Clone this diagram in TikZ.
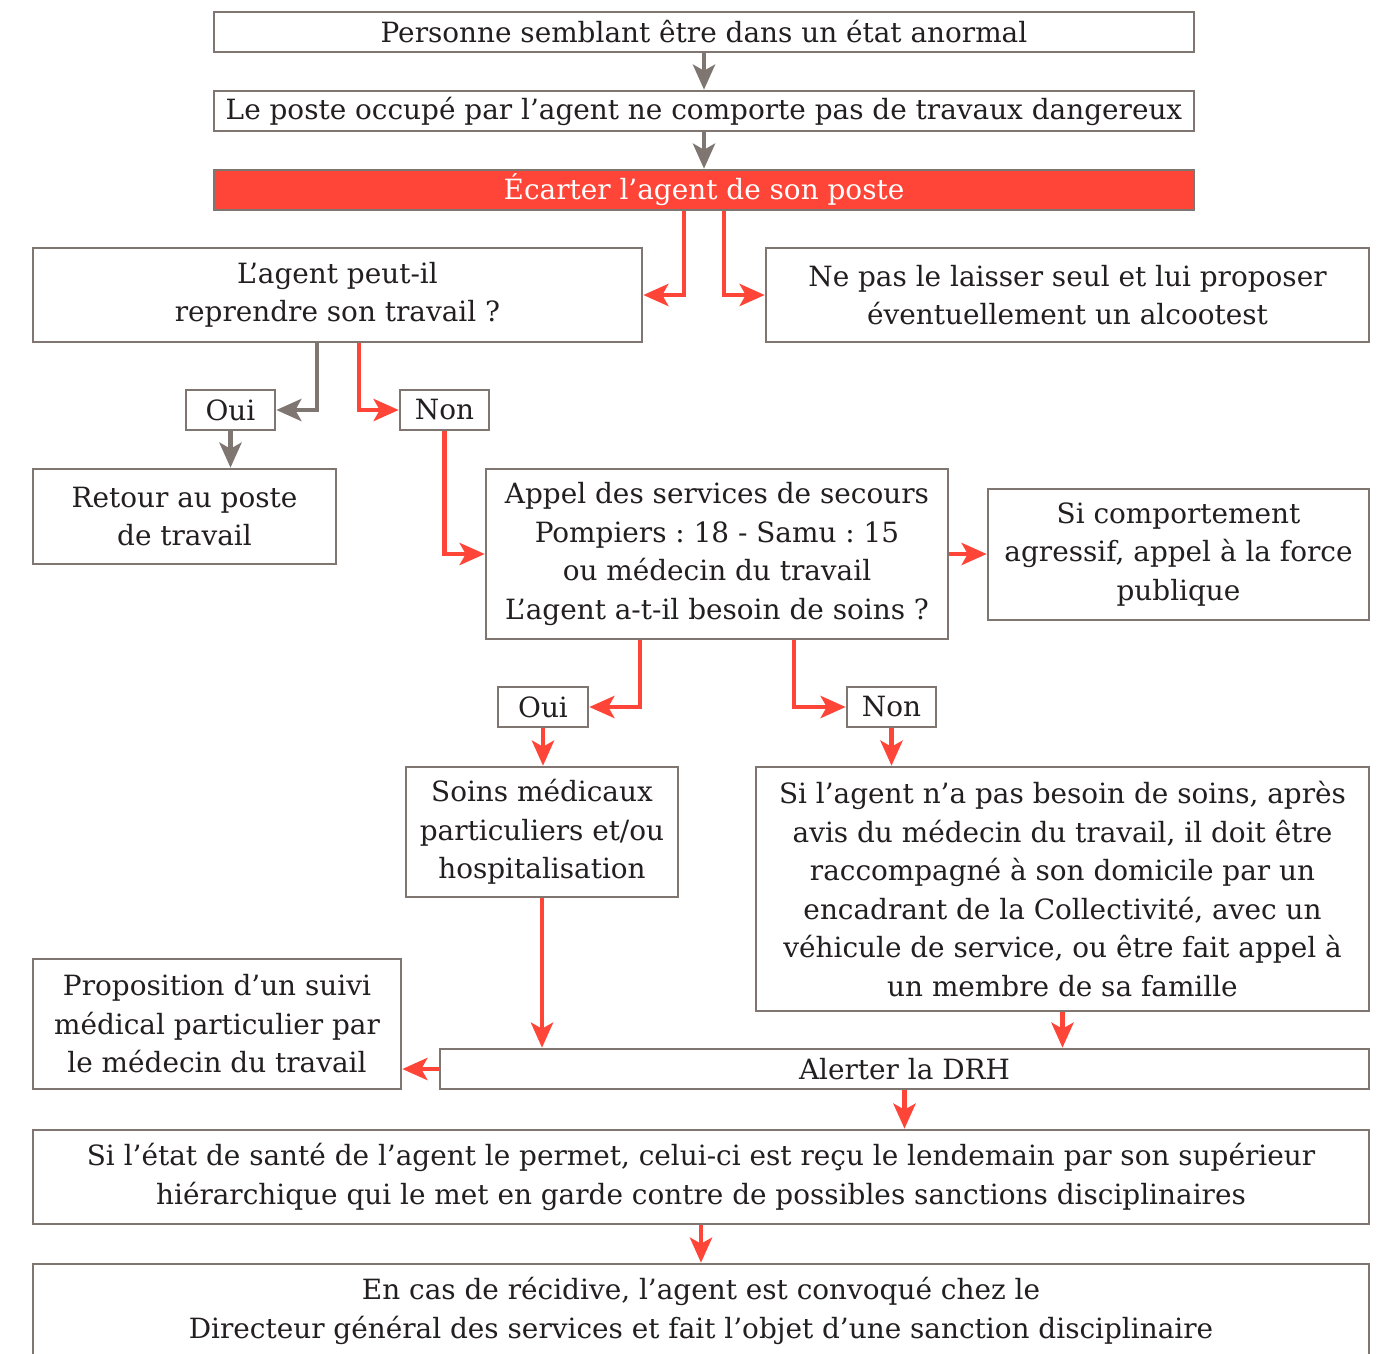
\documentclass[tikz,border=0pt]{standalone}
\usepackage{fontspec}
\setmainfont{DejaVu Serif}
\usetikzlibrary{arrows.meta}
\definecolor{gr}{HTML}{7F7672}
\definecolor{rd}{HTML}{FF4438}
\definecolor{tx}{HTML}{231F20}
\begin{document}
\begin{tikzpicture}[x=1pt,y=-1pt,
  box/.style={draw=gr, line width=2.6pt, fill=white, rectangle, inner sep=0pt, align=center, text=tx,
    font=\fontsize{27.9}{38.5}\selectfont},
  redbox/.style={box, fill=rd, text=white},
  garr/.style={draw=gr, line width=4.8pt, -{Stealth[length=25pt,width=22pt,inset=6pt]}},
  rarr/.style={draw=rd, line width=4.8pt, -{Stealth[length=25pt,width=22pt,inset=6pt]}}]
\useasboundingbox (0,0) rectangle (1382,1353);
\fill[white] (0,0) rectangle (1382,1353);
% nodes
\node[box, minimum width=980, minimum height=40] (p1) at (704,32) {Personne semblant être dans un état anormal};
\node[box, minimum width=980, minimum height=40] (p2) at (704,111) {Le poste occupé par l’agent ne comporte pas de travaux dangereux};
\node[redbox, minimum width=980, minimum height=40] (p3) at (704,190) {Écarter l’agent de son poste};
\node[box, minimum width=609, minimum height=94] (q1) at (337.5,295) {L’agent peut-il\\reprendre son travail ?};
\node[box, minimum width=603, minimum height=94] (np) at (1067.5,295) {Ne pas le laisser seul et lui proposer\\éventuellement un alcootest};
\node[box, minimum width=89, minimum height=40] (oui1) at (230.5,410) {Oui};
\node[box, minimum width=89, minimum height=40] (non1) at (444.5,410) {Non};
\node[box, minimum width=303, minimum height=95] (ret) at (184.5,516.5) {Retour au poste\\de travail};
\node[box, minimum width=462, minimum height=170] (app) at (717,554) {Appel des services de secours\\Pompiers~:~18 - Samu~:~15\\ou médecin du travail\\L’agent a-t-il besoin de soins~?};
\node[box, minimum width=381, minimum height=131] (agr) at (1178.5,554.5) {Si comportement\\agressif, appel à la force\\publique};
\node[box, minimum width=90, minimum height=40] (oui2) at (543,707) {Oui};
\node[box, minimum width=89, minimum height=40] (non2) at (891.5,707) {Non};
\node[box, minimum width=272, minimum height=130] (soins) at (542,832) {Soins médicaux\\particuliers et/ou\\hospitalisation};
\node[box, minimum width=613, minimum height=244] (sil) at (1062.5,889) {Si l’agent n’a pas besoin de soins, après\\avis du médecin du travail, il doit être\\raccompagné à son domicile par un\\encadrant de la Collectivité, avec un\\véhicule de service, ou être fait appel à\\un membre de sa famille};
\node[box, minimum width=368, minimum height=130] (prop) at (217,1024) {Proposition d’un suivi\\médical particulier par\\le médecin du travail};
\node[box, minimum width=929, minimum height=40] (drh) at (904.5,1069) {Alerter la DRH};
\node[box, minimum width=1336, minimum height=94] (etat) at (701,1177) {Si l’état de santé de l’agent le permet, celui-ci est reçu le lendemain par son supérieur\\hiérarchique qui le met en garde contre de possibles sanctions disciplinaires};
\node[box, minimum width=1336, minimum height=94] (rec) at (701,1311) {En cas de récidive, l’agent est convoqué chez le\\Directeur général des services et fait l’objet d’une sanction disciplinaire};
% connectors
\draw[garr] (p1.south) -- (p2.north);
\draw[garr] (p2.south) -- (p3.north);
\draw[rarr] ([xshift=-20pt]p3.south) |- (q1.east);
\draw[rarr] ([xshift=20pt]p3.south) |- (np.west);
\draw[garr] ([xshift=-20.5pt]q1.south) |- (oui1.east);
\draw[rarr] ([xshift=21.5pt]q1.south) |- (non1.west);
\draw[garr] (oui1.south) -- (oui1.south |- ret.north);
\draw[rarr] (non1.south) |- (app.west);
\draw[rarr] (app.east) -- (app.east -| agr.west);
\draw[rarr] ([xshift=-77pt]app.south) |- (oui2.east);
\draw[rarr] ([xshift=77pt]app.south) |- (non2.west);
\draw[rarr] (oui2.south) -- (oui2.south |- soins.north);
\draw[rarr] (non2.south) -- (non2.south |- sil.north);
\draw[rarr] (soins.south) -- (soins.south |- drh.north);
\draw[rarr] (sil.south) -- (sil.south |- drh.north);
\draw[rarr] (drh.west) -- (drh.west -| prop.east);
\draw[rarr] (drh.south) -- (drh.south |- etat.north);
\draw[rarr] (etat.south) -- (rec.north);
\end{tikzpicture}
\end{document}
